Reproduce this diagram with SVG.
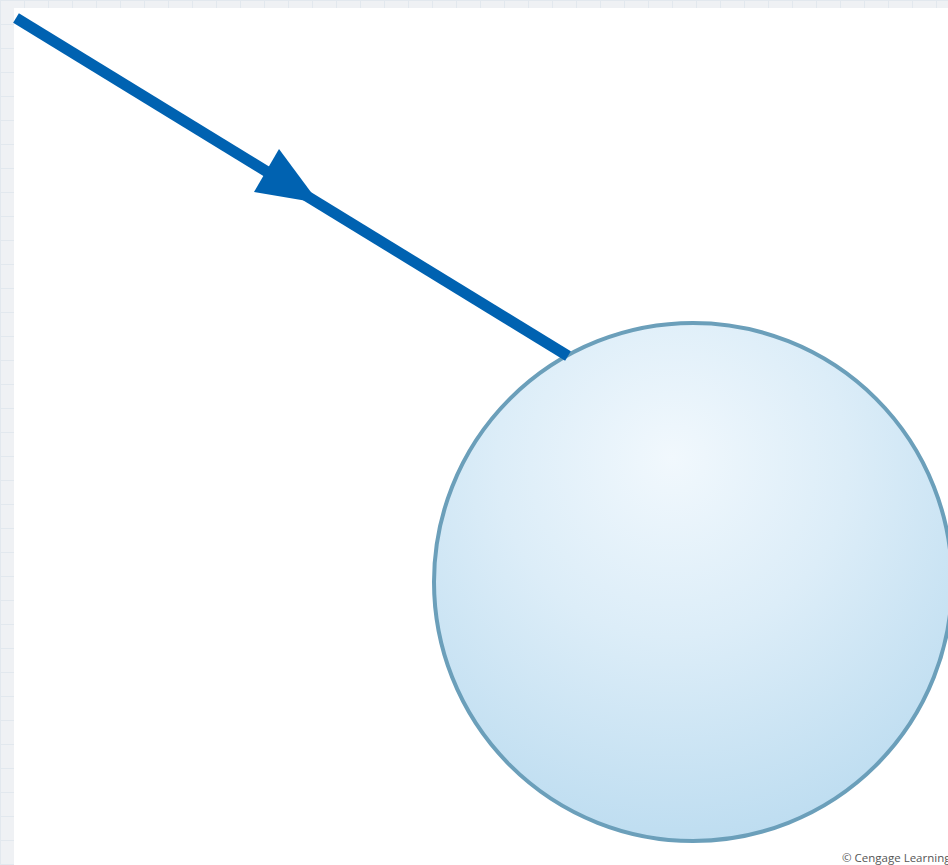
<svg xmlns="http://www.w3.org/2000/svg" width="948" height="865" viewBox="0 0 948 865">
<defs>
<pattern id="grid" width="24" height="24" patternUnits="userSpaceOnUse">
<rect width="24" height="24" fill="#eff1f4"/>
<path d="M0 0.5H24M0.5 0V24" stroke="#e2e8ee" stroke-width="1"/>
</pattern>
<radialGradient id="ball" cx="0.46" cy="0.28" r="0.75" fx="0.46" fy="0.26">
<stop offset="0" stop-color="#f1f8fd"/>
<stop offset="0.45" stop-color="#dcedf8"/>
<stop offset="1" stop-color="#bcdcf0"/>
</radialGradient>
<style>
.ray{stroke:#0062b1;stroke-width:11;fill:none;stroke-linecap:butt}
.head{fill:#0062b1}
.copy{font-family:"Open Sans","Liberation Sans",sans-serif;font-size:11.5px;fill:#555}
</style>
</defs>
<rect width="948" height="865" fill="url(#grid)"/>
<rect x="14" y="8" width="934" height="857" fill="#ffffff"/>
<g id="sphere">
<circle cx="693" cy="582" r="259" fill="url(#ball)" stroke="#6b9fba" stroke-width="4"/>
</g>
<g id="connectors">
<line class="ray" x1="16" y1="18" x2="568" y2="356"/>
<polygon class="head" points="279,149 319,203 254,192"/>
</g>
<text class="copy" x="842" y="862">© Cengage Learning</text>
</svg>
